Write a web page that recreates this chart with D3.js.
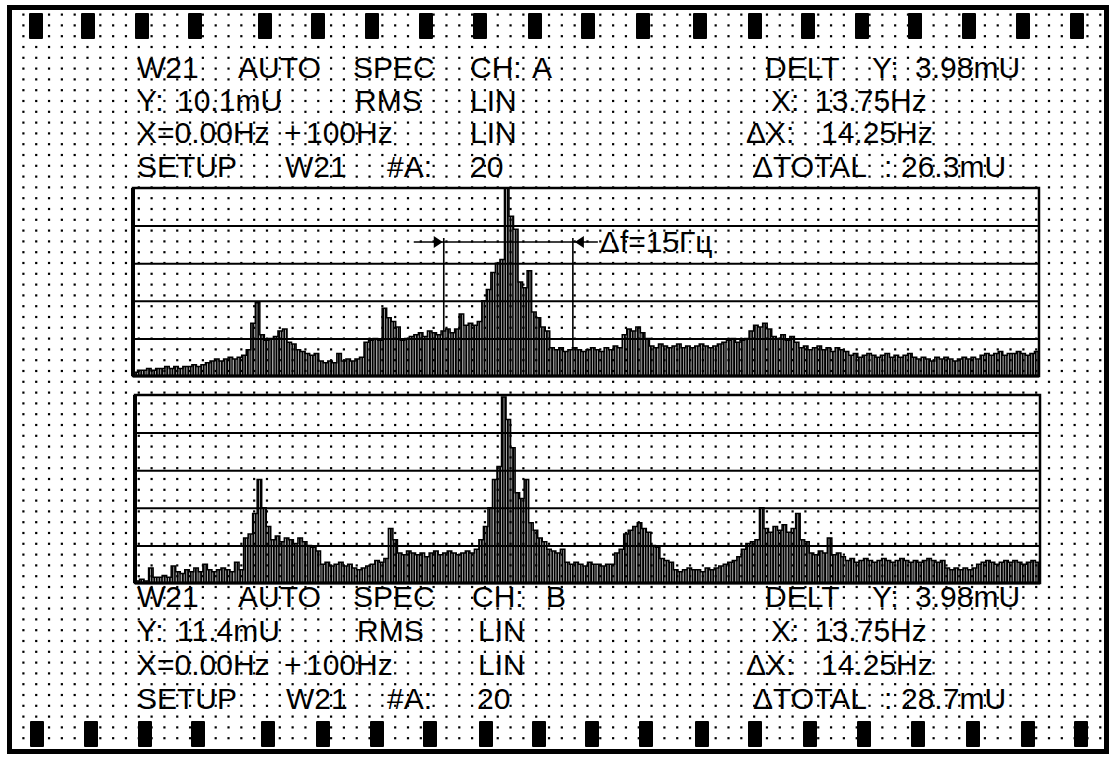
<!DOCTYPE html>
<html><head><meta charset="utf-8">
<script src="https://cdn.jsdelivr.net/npm/d3@7"></script>
<style>
body{margin:0;background:#fff}
svg{display:block}
text{font-family:"Liberation Sans",Arial,sans-serif;font-size:30px;fill:#000}
</style>
</head><body>
<svg id="c" width="1120" height="758"></svg>
<script>
// ---------- DATA ----------
const spanHz = [0, 100];          // X = 0.00Hz + 100Hz
const binHz = 0.5;                // width of one spectrum bin
const levelTicks = [0, 20, 40, 60, 80, 100]; // % of full scale (5 divisions)

// channel A spectrum, % of full scale (Y: 10.1mU)
const levelA = [2,3,3,4,3, 4,4,5,4,5,4,5, 5,6,5,6,7, 8,9,8,9,10,9,10,11,
  14,28,39,22,19,20,21,24,25,18,17, 14,13,12,11,12, 8,7,8,7,12,8,9,8, 9,10,
  18,19,20,19, 36,31,29,26, 19,20,21, 22,23,21,24,23,22, 24,25,23,25,
  33,27,28,27,29, 40,46, 55,60,62, 100,85,78, 50,47,56, 34,31, 26,24,
  15,14,15,13,14,15,14,13,14,15,14,13, 15,14,16,15, 22,25,24,26,23,20,
  16,15,17,16,15,16,17,15,16,15,16,17,16,15,16,17, 18,19,20,18,19,20,
  24,27,26,28,25, 21,20,22,19,21,18, 15,16,14,15,16,14,15,13,15,14,13,
  11,12,10,11,12,11,10,11,12,10,11,10,11,12,10,
  9,10,9,8,10,9,10,9,8,9,10,9,10,9,
  11,12,11,12,13,11,12,12,13,12,11,12,13];

// channel B spectrum, % of full scale (Y: 11.4mU)
const levelB = [1,2,1, 8, 3,3,4,3, 9, 6,5,7,6,8,6,10,7,6,7,8,7,6,11,7,
  24,26,37,55,40,30, 23,25,22,24,23,21,24,22,20,19,17, 10,11,9,10,11,9,10,
  8,7,8,9,10, 12,11,13, 29,23,
  16,15,17,16,15,16,14,16,17,15,16,17,16,15,16,17,16,18,
  23,30,40,55,62,99,87,72,48,45,55,32,28,24,22, 18,17,16,18,
  11,10,11,10,9,11,10,10,9,10, 10,16,18, 26,28,30,32,29, 27,20,19, 13,12,11,
  7,6,7,8,7,7,6,8,7,8,9,10,11,12, 14,18,21, 22,23, 40,
  29,27,30,28,31,27,29, 37, 23,22, 16,15,17,16,24,15,16,14,
  12,13,11,12,13,12,11,12,13,12,11,12,13,12,11,12,11,12,13,12,11,12,
  8,7,8,7,8,7,8, 10,11,12,11,10,11,12,11,12,11,10,11,12,11];

const cursorHz = [34.3, 48.55];   // ΔX = 14.25Hz
const deltaLabel = "Δf=15Гц";

const headerA = [["W21","AUTO","SPEC","CH:","A"], ["Y:","10.1mU","RMS","LIN"],
                 ["X=0.00Hz","+","100Hz","LIN"], ["SETUP","W21","#A:","20"]];
const readoutA = [["DELT","Y:","3.98mU"], ["X:","13.75Hz"], ["ΔX:","14.25Hz"], ["ΔTOTAL",":","26.3mU"]];
const headerB = [["W21","AUTO","SPEC","CH:","B"], ["Y:","11.4mU","RMS","LIN"],
                 ["X=0.00Hz","+","100Hz","LIN"], ["SETUP","W21","#A:","20"]];
const readoutB = [["DELT","Y:","3.98mU"], ["X:","13.75Hz"], ["ΔX:","14.25Hz"], ["ΔTOTAL",":","28.7mU"]];

// ---------- LAYOUT ----------
const W = 1120, H = 758;
const svg = d3.select("#c");
const defs = svg.append("defs");
defs.append("pattern").attr("id","hatch").attr("patternUnits","userSpaceOnUse")
  .attr("width",2.6).attr("height",10)
  .append("rect").attr("width",2.0).attr("height",10).attr("fill","#000");

svg.append("rect").attr("width",W).attr("height",H).attr("fill","#fff");

// dotted background grid
const dotG = svg.append("g").attr("fill","#000");
const dx = 12.82, dy = 10.8;
for (let y = 14.5; y < 748; y += dy)
  for (let x = 23.3; x < 1102; x += dx)
    dotG.append("rect").attr("x",x-1).attr("y",y-1).attr("width",2.2).attr("height",2.2);

// outer frame
svg.append("rect").attr("x",9.5).attr("y",7.5).attr("width",1097).attr("height",744)
  .attr("fill","none").attr("stroke","#000").attr("stroke-width",5);

// sprocket squares
const sprTop = [36,88,142,195,265,318,372,426,480,535,588,643,700,755,808,862,915,969,1023,1077];
const sprBot = [37,91,145,198,268,323,377,430,486,539,592,646,702,755,810,864,918,973,1028,1081];
function sprockets(xs, y){
  svg.append("g").selectAll("rect").data(xs).join("rect")
    .attr("x",d=>d-7).attr("y",y).attr("width",14).attr("height",26).attr("rx",1).attr("fill","#000");
}
sprockets(sprTop, 13);
sprockets(sprBot, 721);

// text blocks
function textBlock(rows, xs, ys){
  rows.forEach((row,r)=>{
    row.forEach((t,k)=>{
      svg.append("text").attr("x",xs[r][k]).attr("y",ys[r]).text(t);
    });
  });
}
const leftX = [[137,238,353,470,532],[137,177,355,470],[137,284,306,470],[137,285,387,470]];
const rightX = [[765,872,915],[771,815],[746,821],[753,884,901]];
const leftXB = [[137,238,353,472,546],[137,177,357,478],[137,284,306,478],[137,286,387,477]];

// spectrum panel
function panel(levels, x0, x1, yTop, yBot){
  const x = d3.scaleLinear().domain(spanHz).range([x0, x1]);
  const y = d3.scaleLinear().domain([levelTicks[0], levelTicks[levelTicks.length-1]]).range([yBot, yTop]);
  const g = svg.append("g");
  const ax = g.append("g").attr("transform",`translate(${x0},0)`)
    .call(d3.axisLeft(y).tickValues(levelTicks.slice(1,-1)).tickSize(-(x1-x0)).tickFormat(""));
  ax.select(".domain").remove();
  ax.selectAll("line").attr("stroke","#000").attr("stroke-width",2);
  const bw = x(binHz) - x(0);
  g.append("g").selectAll("rect").data(levels).join("rect")
    .attr("x",(d,i)=>x(i*binHz)).attr("width",bw)
    .attr("y",d=>y(d)).attr("height",d=>y(0)-y(d))
    .attr("fill","url(#hatch)");
  const env = levels.concat([levels[levels.length-1]]);
  g.append("path").datum(env)
    .attr("d", d3.line().x((d,i)=>x(i*binHz)).y(d=>y(d)).curve(d3.curveStepAfter))
    .attr("fill","none").attr("stroke","#000").attr("stroke-width",1.5);
  g.append("rect").attr("x",x0).attr("y",yTop).attr("width",x1-x0).attr("height",yBot-yTop)
    .attr("fill","none").attr("stroke","#000").attr("stroke-width",2.5);
  g.append("line").attr("x1",x0).attr("x2",x0).attr("y1",yTop).attr("y2",yBot)
    .attr("stroke","#000").attr("stroke-width",4);
  g.append("line").attr("x1",x0).attr("x2",x1).attr("y1",yBot).attr("y2",yBot)
    .attr("stroke","#000").attr("stroke-width",3);
  return {x, y};
}

const pA = panel(levelA, 133, 1039, 188, 376);
const pB = panel(levelB, 135, 1040, 395, 583);

// cursor annotation on panel A
(function(){
  const {x, y} = pA;
  const xa = x(cursorHz[0]), xb = x(cursorHz[1]);
  const yl = 242;
  const lvl = hz => levelA[Math.floor(hz/binHz)];
  const g = svg.append("g").attr("stroke","#000").attr("stroke-width",1.6);
  g.append("line").attr("x1",xa-30).attr("x2",xb+25).attr("y1",yl).attr("y2",yl);
  g.append("line").attr("x1",xa).attr("x2",xa).attr("y1",yl-4).attr("y2",y(lvl(cursorHz[0])));
  g.append("line").attr("x1",xb).attr("x2",xb).attr("y1",yl-4).attr("y2",y(lvl(cursorHz[1])));
  svg.append("path").attr("d",`M${xa-1},${yl} L${xa-10},${yl-6} L${xa-10},${yl+6} Z`).attr("fill","#000");
  svg.append("path").attr("d",`M${xb+2},${yl} L${xb+11},${yl-6} L${xb+11},${yl+6} Z`).attr("fill","#000");
  svg.append("text").attr("x",xb+27).attr("y",yl+10).text(deltaLabel);
})();

textBlock(headerA, leftX, [78,111,143,177]);
textBlock(readoutA, rightX, [78,111,143,177]);
textBlock(headerB, leftXB, [607,641,675,709]);
textBlock(readoutB, rightX, [607,641,675,709]);
</script>
</body></html>
